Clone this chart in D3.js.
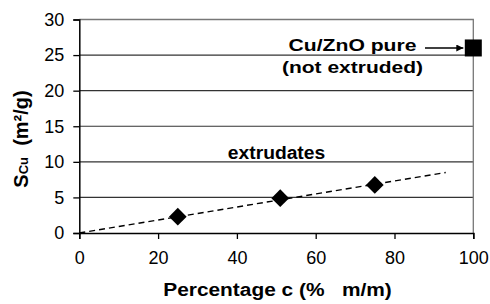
<!DOCTYPE html>
<html>
<head>
<meta charset="utf-8">
<script src="https://cdn.jsdelivr.net/npm/d3@7/dist/d3.min.js"></script>
<style>
  html, body { margin: 0; padding: 0; background: #fff; }
  svg { display: block; font-family: "Liberation Sans", Arial, sans-serif; }
</style>
</head>
<body>
<div id="container"></div>
<script>
// data
const extrudedC = [25, 51, 75]
const extrudedS = [2.3, 4.9, 6.75]
const pureC = [100]
const pureS = [26]
const trendC = [0, 93]
const trendS = [0, 8.5]
const xTicks = [0, 20, 40, 60, 80, 100]
const yTicks = [0, 5, 10, 15, 20, 25, 30]

const width = 490
const height = 304
const plot = { left: 79.3, right: 473.3, top: 19.5, bottom: 233 }

const x = d3.scaleLinear().domain([0, 100]).range([plot.left, plot.right])
const y = d3.scaleLinear().domain([0, 30]).range([plot.bottom, plot.top])

const svg = d3.select('#container')
  .append('svg')
  .attr('width', width)
  .attr('height', height)

// gridlines
svg.append('g')
  .selectAll('line')
  .data(yTicks.filter(d => d > 0 && d < 30))
  .enter().append('line')
  .attr('x1', plot.left).attr('x2', plot.right)
  .attr('y1', d => y(d)).attr('y2', d => y(d))
  .style('stroke', '#333')
  .style('stroke-width', 1.2)

// top and right frame, gray
svg.append('path')
  .attr('d', `M${plot.left},${y(30)}H${x(100)}V${plot.bottom}`)
  .style('fill', 'none')
  .style('stroke', '#777')
  .style('stroke-width', 1.3)

// axes
let xAxis = svg.append('g')
  .attr('transform', `translate(0,${plot.bottom})`)
  .call(d3.axisBottom(x).tickValues(xTicks).tickSize(6).tickPadding(12))
let yAxis = svg.append('g')
  .attr('transform', `translate(${plot.left},0)`)
  .call(d3.axisLeft(y).tickValues(yTicks).tickSize(6).tickPadding(9))

;[xAxis, yAxis].forEach(a => {
  a.select('.domain').style('stroke', '#000').style('stroke-width', 1.5)
  a.selectAll('.tick line').style('stroke', '#000').style('stroke-width', 1.3)
  a.selectAll('.tick text')
    .style('font-family', '"Liberation Sans", Arial, sans-serif')
    .style('font-size', '18px')
    .style('fill', '#000')
})

// dashed trend line
svg.append('path')
  .datum(trendC.map((c, i) => [c, trendS[i]]))
  .attr('d', d3.line().x(d => x(d[0])).y(d => y(d[1])))
  .style('fill', 'none')
  .style('stroke', '#000')
  .style('stroke-width', 1.4)
  .style('stroke-dasharray', '6,4')

// diamonds
svg.append('g')
  .selectAll('path')
  .data(extrudedC.map((c, i) => [c, extrudedS[i]]))
  .enter().append('path')
  .attr('transform', d => `translate(${x(d[0])},${y(d[1])})`)
  .attr('d', d3.symbol().type(d3.symbolDiamond2).size(200))
  .style('fill', '#000')

// square
svg.append('g')
  .selectAll('rect')
  .data(pureC.map((c, i) => [c, pureS[i]]))
  .enter().append('rect')
  .attr('x', d => x(d[0]) - 8.5)
  .attr('y', d => y(d[1]) - 8.5)
  .attr('width', 17)
  .attr('height', 17)
  .style('fill', '#000')

// labels, the source font is a bit wider than Liberation so stretch it
function label(txt, px, py, size, sx) {
  return svg.append('text')
    .attr('transform', `translate(${px},${py}) scale(${sx},1)`)
    .attr('text-anchor', 'middle')
    .style('font-size', size + 'px')
    .style('font-weight', 'bold')
    .text(txt)
}

label('Cu/ZnO pure', 352.5, 51, 17.2, 1.23)
label('(not extruded)', 352.5, 73, 17.2, 1.22)
label('extrudates', 276.5, 158.5, 18, 1.07)
label('Percentage c (%   m/m)', 277.5, 296, 18, 1.16)
  .style('white-space', 'pre')

// arrow to the pure point
svg.append('defs').append('marker')
  .attr('id', 'head')
  .attr('viewBox', '0 0 10 10')
  .attr('refX', 10).attr('refY', 5)
  .attr('markerWidth', 9).attr('markerHeight', 7)
  .attr('markerUnits', 'userSpaceOnUse')
  .attr('orient', 'auto')
  .append('path')
  .attr('d', 'M0,0L10,5L0,10Z')
  .style('fill', '#000')

svg.append('line')
  .attr('x1', 425).attr('y1', 48)
  .attr('x2', x(pureC[0]) - 10).attr('y2', 48)
  .style('stroke', '#000')
  .style('stroke-width', 1.5)
  .attr('marker-end', 'url(#head)')

// y title with subscript
let yt = svg.append('text')
  .attr('transform', 'translate(28,139) rotate(-90)')
  .attr('text-anchor', 'middle')
  .style('font-size', '20px')
  .style('font-weight', 'bold')
  .style('white-space', 'pre')
yt.append('tspan').text('S')
yt.append('tspan').style('font-size', '13px').text('Cu')
yt.append('tspan').text('  (m²/g)')
</script>
</body>
</html>
